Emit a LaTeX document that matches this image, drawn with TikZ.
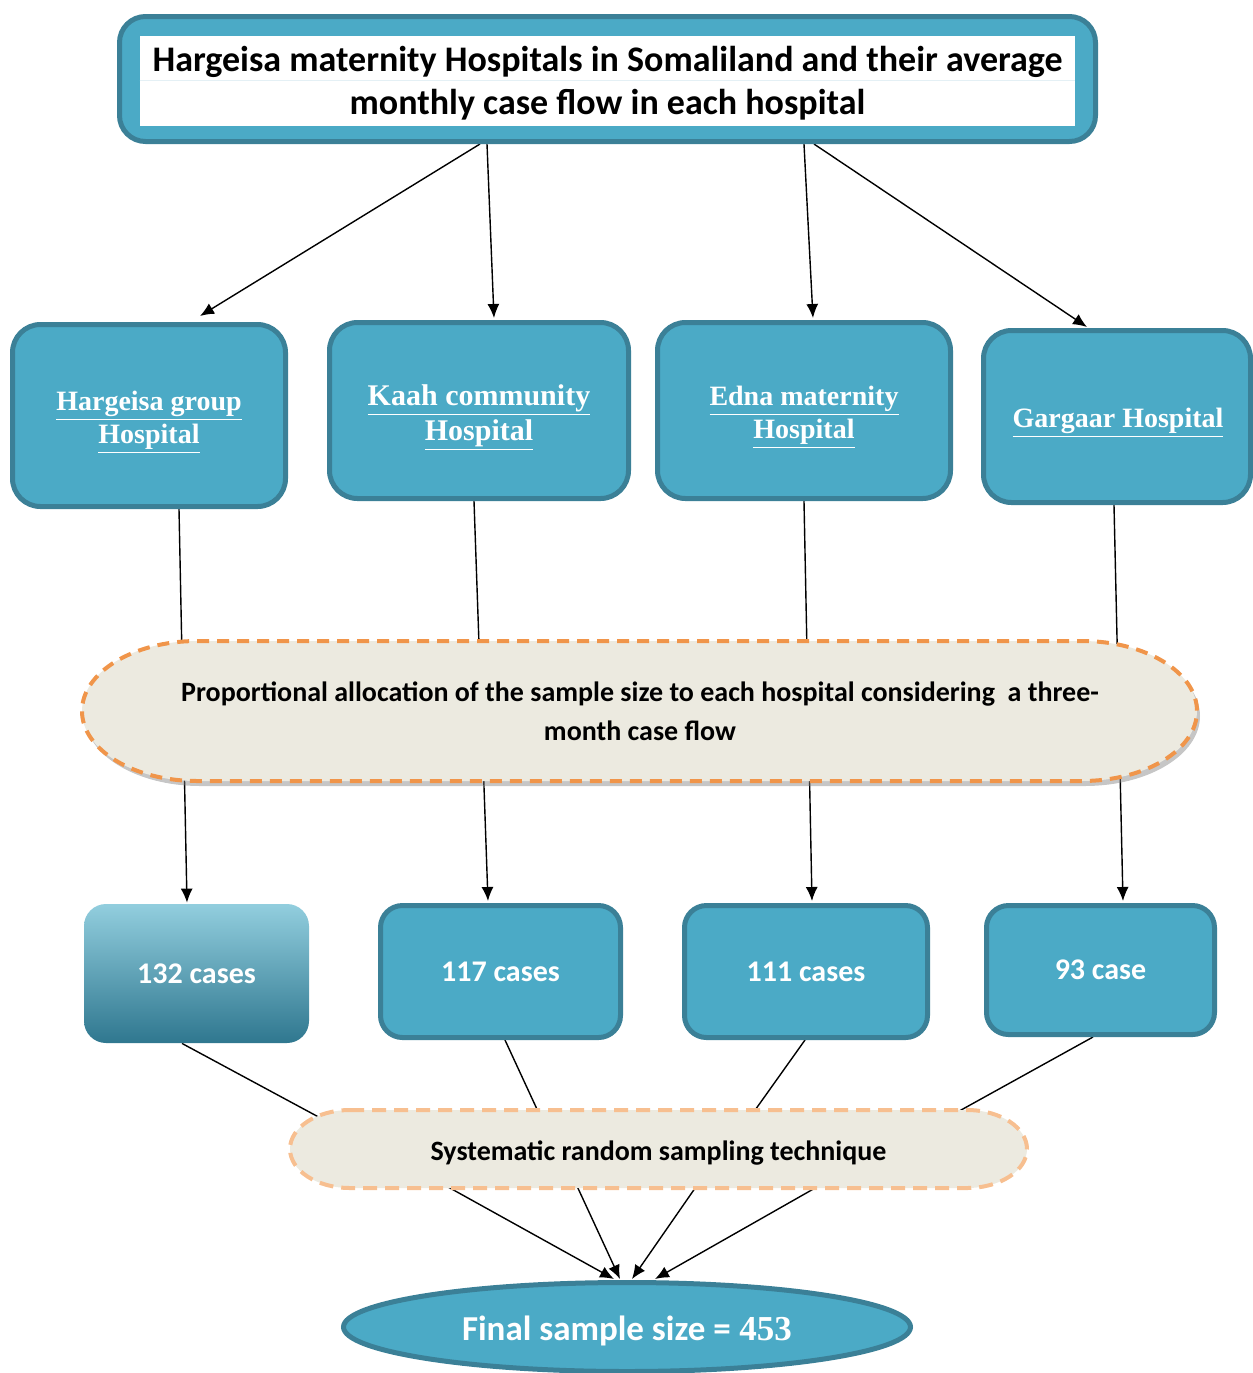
\documentclass[tikz,border=0pt]{standalone}
\usepackage{fontspec}
\setmainfont{Liberation Serif}
\newfontfamily\calfont{Carlito}
\usetikzlibrary{arrows.meta,shapes.geometric,shadows,calc}
\definecolor{teal1}{HTML}{4BAAC6}
\definecolor{tealdk}{HTML}{3B8097}
\definecolor{cream}{HTML}{ECEAE0}
\definecolor{orng}{HTML}{F0954A}
\definecolor{orng2}{HTML}{F7BF90}
\definecolor{gtop}{HTML}{92CEDE}
\definecolor{gbot}{HTML}{2F778F}
\definecolor{faint}{HTML}{E4F0F5}
\pgfdeclarelayer{bg}
\pgfsetlayers{bg,main}
\begin{document}
\begin{tikzpicture}[x=0.5pt,y=-0.5pt,
  arr/.style={-{Latex[length=7pt,width=6pt]}, line width=0.7pt, black},
  ln/.style={line width=0.7pt, black},
  hosp/.style={rectangle, draw=tealdk, fill=teal1, line width=2.5pt, rounded corners=14pt, inner sep=0pt},
  hosptext/.style={text=white, align=center, inner sep=0pt, font=\bfseries\fontsize{14}{16.5}\selectfont},
  casebox/.style={rectangle, draw=tealdk, fill=teal1, line width=2.5pt, rounded corners=11pt,
    text=white, inner sep=0pt, font=\calfont\bfseries\fontsize{15}{18}\selectfont},
  dashshape/.style={fill=cream, line width=2pt, dash pattern=on 6pt off 4pt}
]
\useasboundingbox (0,0) rectangle (1253,1373);

% top box
\node[rectangle, draw=tealdk, fill=teal1, line width=2.5pt, rounded corners=13pt,
  minimum width=488pt, minimum height=62.5pt, inner sep=0pt] (top) at (607.5,79) {};
\node[rectangle, fill=white, minimum width=467.5pt, minimum height=45pt, inner sep=0pt] (ttlbg) at (607.5,81) {};
\draw[faint, line width=0.5pt] (ttlbg.west |- 0,80) -- (ttlbg.east |- 0,80);
\node[align=center, font=\calfont\bfseries\fontsize{18}{21.5}\selectfont] (ttl) at (607.5,83)
  {Hargeisa maternity Hospitals in Somaliland and their average\\monthly case flow in each hospital};

% hospitals
\node[hosp, minimum width=136.5pt, minimum height=91pt] (h1) at (149,415.5) {};
\node[hosptext] (h1t) at (149,422.5) {\underline{Hargeisa group}\\\underline{Hospital}};
\node[hosp, minimum width=149.5pt, minimum height=88pt] (h2) at (479,410.5) {};
\node[hosptext, font=\bfseries\fontsize{15}{17.5}\selectfont] (h2t) at (479,417.5) {\underline{Kaah community}\\\underline{Hospital}};
\node[hosp, minimum width=146.5pt, minimum height=88pt] (h3) at (804,410.5) {};
\node[hosptext] (h3t) at (804,417.5) {\underline{Edna maternity}\\\underline{Hospital}};
\node[hosp, minimum width=133.5pt, minimum height=86pt] (h4) at (1117,416.5) {};
\node[hosptext] (h4t) at (1118,423) {\underline{Gargaar Hospital}};

% allocation shape
\path[dashshape, draw=orng, drop shadow={opacity=0.45, shadow xshift=1.5pt, shadow yshift=-2.5pt}]
  (197,641) -- (1082,641) arc[start angle=90, end angle=-90, x radius=57.5pt, y radius=35pt]
  -- (197,781) arc[start angle=270, end angle=90, x radius=57.5pt, y radius=35pt] -- cycle;
\node[align=center, font=\calfont\bfseries\fontsize{14}{19.5}\selectfont] (alloc) at (640,711)
  {Proportional allocation of the sample size to each hospital considering\ \ a three-\\month case flow};

% cases
\node[rectangle, rounded corners=11pt, top color=gtop, bottom color=gbot, minimum width=112.5pt,
  minimum height=69.5pt, inner sep=0pt, text=white, font=\calfont\bfseries\fontsize{15}{18}\selectfont]
  (c1) at (196.5,973.5) {132 cases};
\node[casebox, minimum width=120pt, minimum height=66pt] (c2) at (500.5,971.5) {117 cases};
\node[casebox, minimum width=121.5pt, minimum height=66pt] (c3) at (806,971.5) {111 cases};
\node[casebox, minimum width=114pt, minimum height=64.5pt] (c4) at (1100.5,970) {93 case};

% sampling shape
\path[dashshape, draw=orng2, dash pattern=on 7pt off 4pt]
  (350,1110) -- (967,1110) arc[start angle=90, end angle=-90, x radius=30pt, y radius=19.5pt]
  -- (350,1188) arc[start angle=270, end angle=90, x radius=30pt, y radius=19.5pt] -- cycle;
\node[font=\calfont\bfseries\fontsize{14}{17}\selectfont] (samp) at (658.5,1153) {Systematic random sampling technique};

% final
\node[ellipse, draw=tealdk, fill=teal1, line width=2.5pt, minimum width=283.5pt, minimum height=44.5pt,
  inner sep=0pt] (final) at (627,1327) {};
\node[text=white, font=\fontsize{17.5}{20}\selectfont\bfseries, inner sep=0pt] (finalt) at (627,1331)
  {{\calfont Final sample size =} 453};

\begin{pgfonlayer}{bg}
\draw[arr] ($(top.south)+(-127.5,0)$) -- ($(h1.north)+(51,-6)$);
\draw[arr] ($(top.south)+(-120.5,0)$) -- ($(h2.north)+(15,-2)$);
\draw[arr] ($(top.south)+(196.5,0)$) -- ($(h3.north)+(9,-2)$);
\draw[arr] ($(top.south)+(206.5,0)$) -- ($(h4.north)+(-30,-1)$);

\draw[arr] ($(h1.south)+(30,0)$) -- ($(c1.north)+(-9.5,-1)$);
\draw[arr] ($(h2.south)+(-5,0)$) -- ($(c2.north)+(-12.5,-2)$);
\draw[arr] ($(h3.south)+(0,0)$) -- ($(c3.north)+(6,-2)$);
\draw[arr] ($(h4.south)+(-3,0)$) -- ($(c4.north)+(22.5,-2)$);

\draw[ln] ($(c1.south)+(-14.5,0)$) -- ($(samp.center)+(-319.5,-25)$);
\draw[ln] ($(c2.south)+(4.5,0)$) -- ($(samp.center)+(-116.5,-33)$);
\draw[ln] ($(c3.south)+(-1,0)$) -- ($(samp.center)+(89.5,-33)$);
\draw[ln] ($(c4.south)+(-7.5,0)$) -- ($(samp.center)+(284.5,-33)$);

\draw[arr] ($(samp.center)+(-223,27)$) -- ($(final.north)+(-13,-1)$);
\draw[arr] ($(samp.center)+(-84.3,27)$) -- ($(final.north)+(-7,-1)$);
\draw[arr] ($(samp.center)+(42.2,27)$) -- ($(final.north)+(5,-1)$);
\draw[arr] ($(samp.center)+(170.7,27)$) -- ($(final.north)+(28,-1)$);
\end{pgfonlayer}
\end{tikzpicture}
\end{document}
